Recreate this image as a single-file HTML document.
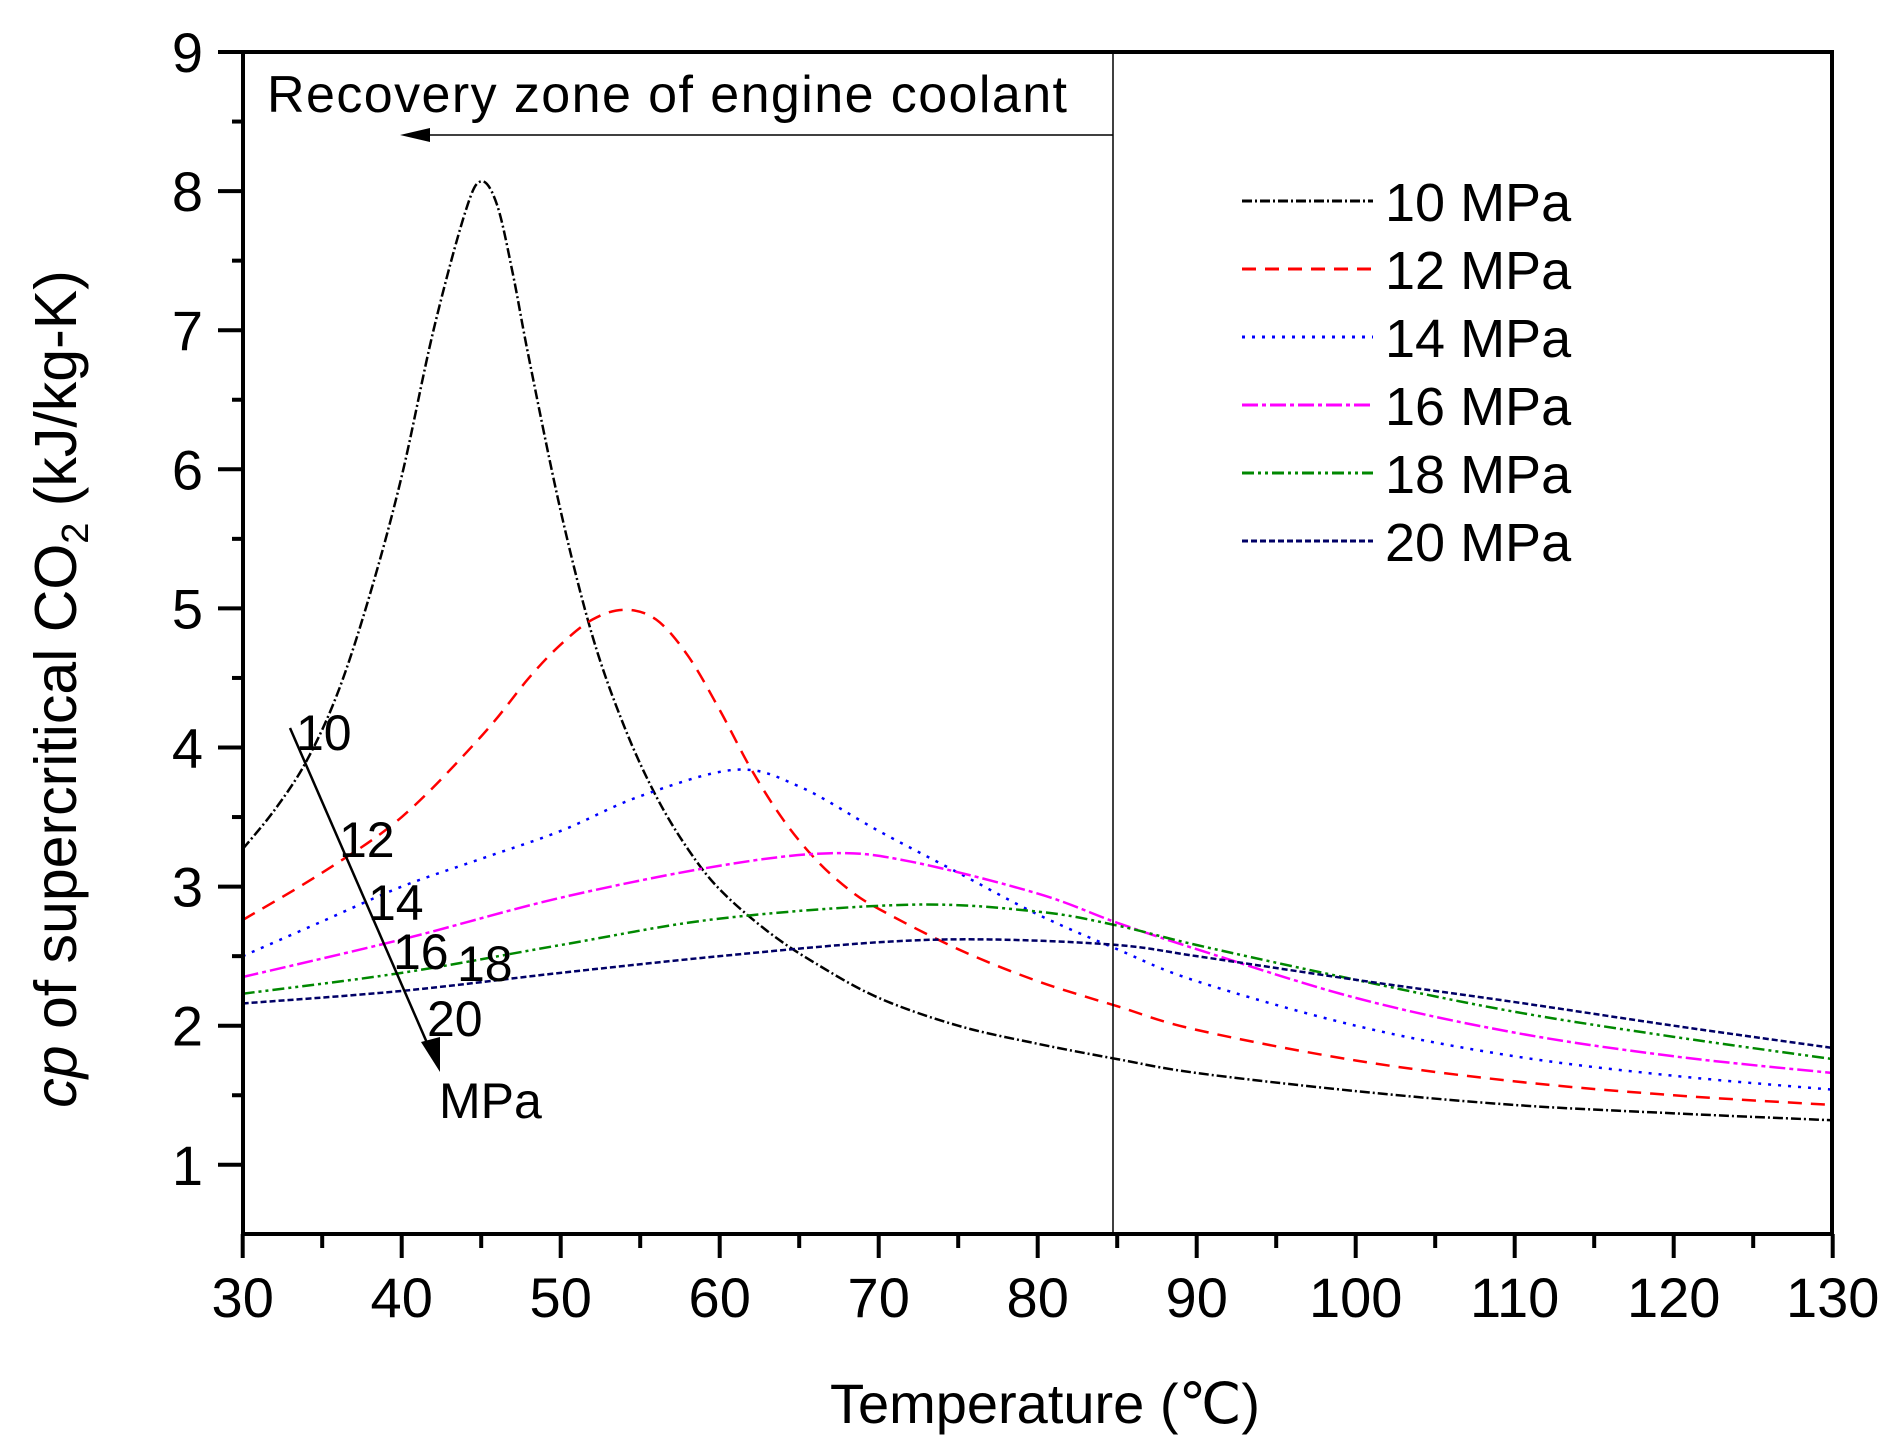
<!DOCTYPE html>
<html><head><meta charset="utf-8"><style>
html,body{margin:0;padding:0;background:#fff}
svg{display:block}
text{font-family:"Liberation Sans",Arial,sans-serif;fill:#000}
</style></head><body>
<svg id="s" width="1902" height="1455" viewBox="0 0 1902 1455" xmlns="http://www.w3.org/2000/svg">
<rect width="1902" height="1455" fill="#fff"/>
<g id="curves"></g>
<rect x="243" y="52" width="1589" height="1182" fill="none" stroke="#000" stroke-width="4"/>
<g id="ticks" stroke="#000" stroke-width="4"></g>
<g id="labels" font-size="56"></g>
<line x1="1113" y1="52" x2="1113" y2="1234" stroke="#000" stroke-width="1.5"/>
<line x1="430" y1="135" x2="1113" y2="135" stroke="#000" stroke-width="1.5"/>
<polygon points="400,135 430,128 430,142" fill="#000"/>
<text x="267" y="112" font-size="52" textLength="800">Recovery zone of engine coolant</text>
<line x1="290" y1="728" x2="431" y2="1052" stroke="#000" stroke-width="2.5"/>
<polygon points="440,1072 421,1042 440,1037" fill="#000"/>
<g font-size="50">
<text x="296" y="750">10</text>
<text x="339" y="857">12</text>
<text x="368" y="920">14</text>
<text x="393" y="969">16</text>
<text x="457" y="981">18</text>
<text x="427" y="1036">20</text>
<text x="439" y="1118">MPa</text>
</g>
<g id="legend" font-size="54"></g>
<text x="1045" y="1423" font-size="56" text-anchor="middle">Temperature (℃)</text>
<text transform="translate(76,689) rotate(-90)" font-size="59" text-anchor="middle"><tspan font-style="italic">cp</tspan> of supercritical CO<tspan font-size="38" dy="12">2</tspan><tspan dy="-12"> (kJ/kg-K)</tspan></text>
</svg>
<script>
var NS="http://www.w3.org/2000/svg";
function X(t){return 242.7+(t-30)*15.9}
function Y(v){return 52+(9-v)*139.1}
function el(n,a,p){var e=document.createElementNS(NS,n);for(var k in a)e.setAttribute(k,a[k]);p.appendChild(e);return e}
var series=[
{c:"#000",d:"10 3 2 3",w:2.5,p:[[30,3.27],[32,3.55],[34,3.9],[36,4.4],[38,5.1],[40,5.95],[42,7.0],[44,7.85],[45,8.07],[46,7.9],[47,7.4],[48,6.8],[50,5.7],[52,4.8],[54,4.15],[56,3.65],[58,3.27],[60,2.98],[63,2.68],[66,2.45],[70,2.2],[75,2.0],[80,1.87],[85,1.76],[90,1.66],[100,1.53],[110,1.43],[120,1.37],[130,1.32]]},
{c:"#f00",d:"14 9",w:2.5,p:[[30,2.76],[35,3.1],[40,3.5],[45,4.08],[48,4.5],[50,4.74],[52,4.92],[54,4.99],[56,4.92],[58,4.66],[60,4.27],[62,3.84],[64,3.48],[66,3.2],[68,2.99],[70,2.84],[75,2.55],[80,2.32],[85,2.14],[90,1.97],[100,1.75],[110,1.6],[120,1.5],[130,1.43]]},
{c:"#00f",d:"3 7",w:2.5,p:[[30,2.5],[35,2.75],[40,3.0],[45,3.2],[50,3.4],[55,3.65],[61,3.84],[65,3.72],[70,3.4],[75,3.1],[80,2.8],[85,2.55],[90,2.32],[100,2.0],[110,1.78],[120,1.64],[130,1.54]]},
{c:"#f0f",d:"16 4 4 4",w:2.5,p:[[30,2.35],[40,2.62],[50,2.92],[60,3.15],[67,3.24],[72,3.18],[80,2.95],[85,2.74],[90,2.55],[100,2.2],[110,1.95],[120,1.78],[130,1.66]]},
{c:"#080",d:"12 4 3 4 3 4",w:2.5,p:[[30,2.23],[40,2.38],[50,2.58],[60,2.77],[72,2.87],[80,2.82],[85,2.72],[90,2.58],[100,2.33],[110,2.1],[120,1.92],[130,1.76]]},
{c:"#006",d:"6 3",w:2.5,p:[[30,2.16],[40,2.25],[50,2.38],[60,2.5],[70,2.6],[77,2.62],[85,2.58],[90,2.5],[100,2.33],[110,2.17],[120,2.0],[130,1.84]]}
];
var cg=document.getElementById("curves");
series.forEach(function(s){
 var P=s.p.map(function(q){return [X(q[0]),Y(q[1])]});
 var d="M"+P[0][0]+","+P[0][1];
 for(var i=0;i<P.length-1;i++){
  var p0=P[i-1]||P[i],p1=P[i],p2=P[i+1],p3=P[i+2]||P[i+1];
  var c1=[p1[0]+(p2[0]-p0[0])/6,p1[1]+(p2[1]-p0[1])/6];
  var c2=[p2[0]-(p3[0]-p1[0])/6,p2[1]-(p3[1]-p1[1])/6];
  d+=" C"+c1+" "+c2+" "+p2;
 }
 el("path",{d:d,fill:"none",stroke:s.c,"stroke-width":s.w,"stroke-dasharray":s.d},cg);
});
var tg=document.getElementById("ticks"),lg=document.getElementById("labels");
for(var t=30;t<=130;t+=5){var x=X(t),maj=t%10==0;
 el("line",{x1:x,y1:1234,x2:x,y2:maj?1258:1248},tg);
 if(maj){var e=el("text",{x:x,y:1317,"text-anchor":"middle"},lg);e.textContent=t;}}
for(var v=1;v<=9;v+=0.5){var y=Y(v),maj=v%1==0;
 el("line",{x1:243,y1:y,x2:maj?218:232,y2:y},tg);
 if(maj){var e=el("text",{x:203,y:y+20,"text-anchor":"end"},lg);e.textContent=v;}}
var L=document.getElementById("legend");
var names=["10 MPa","12 MPa","14 MPa","16 MPa","18 MPa","20 MPa"];
series.forEach(function(s,i){var y=201+i*68;
 el("line",{x1:1242,y1:y,x2:1373,y2:y,stroke:s.c,"stroke-width":3,"stroke-dasharray":s.d},L);
 var e=el("text",{x:1385,y:y+20},L);e.textContent=names[i];});
</script>
</body></html>
